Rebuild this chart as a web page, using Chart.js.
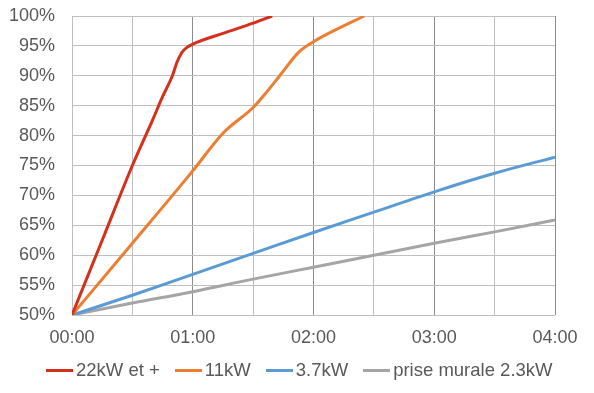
<!DOCTYPE html>
<html>
<head>
<meta charset="utf-8">
<script src="https://cdn.jsdelivr.net/npm/chart.js@4/dist/chart.umd.min.js"></script>
<style>
  html, body { margin: 0; padding: 0; background: #fff; }
  #wrap { position: relative; width: 594px; height: 393px; }
  #legend { position: absolute; left: 46px; top: 359px; display: flex; align-items: center; gap: 15px;
            font-family: "Liberation Sans", Arial, sans-serif; font-size: 18.5px; color: #595959; white-space: nowrap; }
  .item { display: flex; align-items: center; }
  .swatch { width: 27px; height: 3px; margin-right: 3px; }
</style>
</head>
<body>
<div id="wrap">
  <canvas id="c" width="594" height="393"></canvas>
  <div id="legend"></div>
</div>
<script>
// Series labels
const seriesLabels = ['22kW et +', '11kW', '3.7kW', 'prise murale 2.3kW'];
const seriesColors = ['#D5301C', '#ED7D31', '#5B9BD5', '#A5A5A5'];

// time (hours) and state of charge (%) for each series
const t22 = [0, 0.25, 0.5, 0.667, 0.75, 0.833, 0.87, 0.91, 0.955, 1.0, 1.25, 1.5, 1.658];
const v22 = [50, 62.5, 75, 82.6, 86.5, 90.1, 92.3, 93.9, 94.8, 95.3, 97.1, 98.8, 100];

const t11 = [0, 0.5, 1.0, 1.25, 1.5, 1.6, 1.72, 1.88, 2.0, 2.42];
const v11 = [50, 62, 74.1, 80.4, 84.7, 87, 90, 94, 95.7, 100];

const t37 = [0, 0.5, 1, 1.5, 2, 2.5, 3, 3.5, 4];
const v37 = [50, 53.3, 56.8, 60.3, 63.8, 67.2, 70.6, 73.7, 76.4];

const t23 = [0, 0.5, 1, 1.5, 2, 2.5, 3, 3.5, 4];
const v23 = [50, 52.0, 53.9, 56.0, 58.0, 60.0, 62.0, 63.9, 65.9];

// axis tick labels
const xTickLabels = ['00:00', '01:00', '02:00', '03:00', '04:00'];
const yTickLabels = ['50%', '55%', '60%', '65%', '70%', '75%', '80%', '85%', '90%', '95%', '100%'];

const times = [t22, t11, t37, t23];
const values = [v22, v11, v37, v23];

const datasets = seriesLabels.map((lab, i) => ({
  label: lab,
  data: times[i].map((t, j) => ({ x: t, y: values[i][j] })),
  borderColor: seriesColors[i],
  backgroundColor: seriesColors[i],
  borderWidth: 3,
  pointRadius: 0,
  fill: false,
  cubicInterpolationMode: 'monotone',
  borderCapStyle: 'butt'
}));

const font = { family: '"Liberation Sans", Arial, sans-serif', size: 18 };

new Chart(document.getElementById('c'), {
  type: 'line',
  data: { datasets },
  options: {
    responsive: false,
    animation: false,
    layout: { padding: { top: 16, right: 39, bottom: 38, left: 0 } },
    plugins: { legend: { display: false }, tooltip: { enabled: false } },
    scales: {
      x: {
        type: 'linear', min: 0, max: 4,
        afterFit: s => { s.height = 40; s.paddingLeft = 0; s.paddingRight = 0; },
        afterBuildTicks: s => { s.ticks = [0,0.5,1,1.5,2,2.5,3,3.5,4].map(v => ({ value: v })); },
        ticks: {
          autoSkip: false, maxRotation: 0, padding: 12, color: '#595959', font,
          callback: v => (Number.isInteger(v) ? xTickLabels[v] : '')
        },
        grid: {
          drawTicks: false,
          color: c => (c.tick && Number.isInteger(c.tick.value) && c.tick.value > 0 ? '#8C8C8C' : '#BFBFBF'),
          lineWidth: 1
        },
        border: { display: false }
      },
      y: {
        min: 50, max: 100,
        afterFit: s => { s.width = 72; s.paddingTop = 0; s.paddingBottom = 0; },
        ticks: {
          stepSize: 5, padding: 17, color: '#595959', font,
          callback: v => yTickLabels[Math.round((v - 50) / 5)]
        },
        grid: { drawTicks: false, color: '#BFBFBF', lineWidth: 1 },
        border: { display: false }
      }
    }
  }
});

const leg = document.getElementById('legend');
seriesLabels.forEach((lab, i) => {
  const it = document.createElement('div'); it.className = 'item';
  const sw = document.createElement('span'); sw.className = 'swatch'; sw.style.background = seriesColors[i];
  const tx = document.createElement('span'); tx.textContent = lab;
  it.appendChild(sw); it.appendChild(tx); leg.appendChild(it);
});
</script>
</body>
</html>
